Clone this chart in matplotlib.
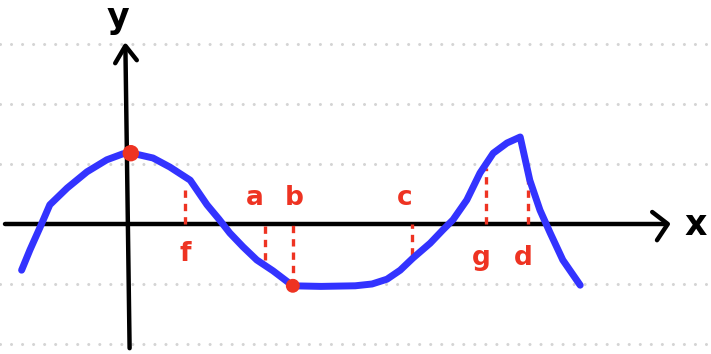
import matplotlib
matplotlib.use("Agg")
import matplotlib.pyplot as plt

# Curve (data units: 1 unit = one grid spacing)
curve_x = [-1.79, -1.65, -1.48, -1.32, -1.03, -0.70, -0.37, -0.10, 0.05,
           0.40, 0.68, 1.02, 1.30, 1.50, 1.68, 1.90, 2.13, 2.40, 2.73,
           3.20, 3.77, 4.05, 4.30, 4.52, 4.73, 5.02, 5.23, 5.40, 5.63, 5.85,
           6.07, 6.30, 6.52, 6.68, 6.85, 7.02, 7.23, 7.52]
curve_y = [-0.77, -0.43, -0.05, 0.32, 0.60, 0.87, 1.07, 1.17, 1.18,
           1.10, 0.95, 0.73, 0.32, 0.08, -0.15, -0.38, -0.60, -0.78, -1.03,
           -1.04, -1.03, -1.00, -0.92, -0.77, -0.57, -0.32, -0.10, 0.07, 0.40, 0.85,
           1.18, 1.35, 1.45, 0.73, 0.23, -0.15, -0.60, -1.02]

# Marked points (red dots)
dot_x = [0.03, 2.73]
dot_y = [1.18, -1.03]

# Dashed guide lines and their labels
guide_labels = ["f", "a", "b", "c", "g", "d"]
guide_x = [0.93, 2.27, 2.73, 4.72, 5.95, 6.65]
guide_top = [0.62, 0.0, 0.0, 0.0, 0.93, 0.77]
guide_bot = [0.0, -0.60, -1.03, -0.52, 0.0, 0.0]
label_x = [0.93, 2.10, 2.75, 4.60, 5.88, 6.57]
label_y = [-0.50, 0.43, 0.43, 0.43, -0.57, -0.57]

grid_levels = [3, 2, 1, -1, -2]

BLUE = "#3333ff"
RED = "#ee3322"

fig = plt.figure(figsize=(7.11, 3.54), dpi=100)
ax = fig.add_axes([0, 0, 1, 1])
ax.set_xlim(-2.15, 9.70)
ax.set_ylim(-2.1667, 3.7333)
ax.axis("off")

for g in grid_levels:
    ax.axhline(g, color="#d4d4d4", lw=2.2, linestyle=(0, (0.01, 3.6)),
               dash_capstyle="round", zorder=0)

# axes
ax.plot([-2.07, 8.95], [0, 0], color="black", lw=3.2, solid_capstyle="round", zorder=2)
ax.plot([8.72, 8.98, 8.80], [0.20, 0.0, -0.27], color="black", lw=3.2,
        solid_capstyle="round", solid_joinstyle="round", zorder=2)
ax.plot([0.01, -0.06], [-2.07, 2.95], color="black", lw=3.2, solid_capstyle="round", zorder=2)
ax.plot([-0.23, -0.06, 0.13], [2.68, 2.97, 2.73], color="black", lw=3.2,
        solid_capstyle="round", solid_joinstyle="round", zorder=2)
ax.text(-0.18, 3.43, "y", fontsize=25, fontweight="bold", ha="center", va="center")
ax.text(9.45, -0.02, "x", fontsize=25, fontweight="bold", ha="center", va="center")

# guides
for gx, t, b in zip(guide_x, guide_top, guide_bot):
    ax.plot([gx, gx], [b, t], color=RED, lw=2.4, linestyle=(0, (2.2, 1.8)), zorder=3)
for lx, ly, lab in zip(label_x, label_y, guide_labels):
    ax.text(lx, ly, lab, color=RED, fontsize=19, fontweight="bold", ha="center", va="center")

ax.plot(curve_x, curve_y, color=BLUE, lw=5, solid_capstyle="round",
        solid_joinstyle="round", zorder=4)
ax.scatter(dot_x, dot_y, s=[140, 100], color=RED, zorder=5, edgecolors="none")

fig.savefig("out.png", dpi=100)
